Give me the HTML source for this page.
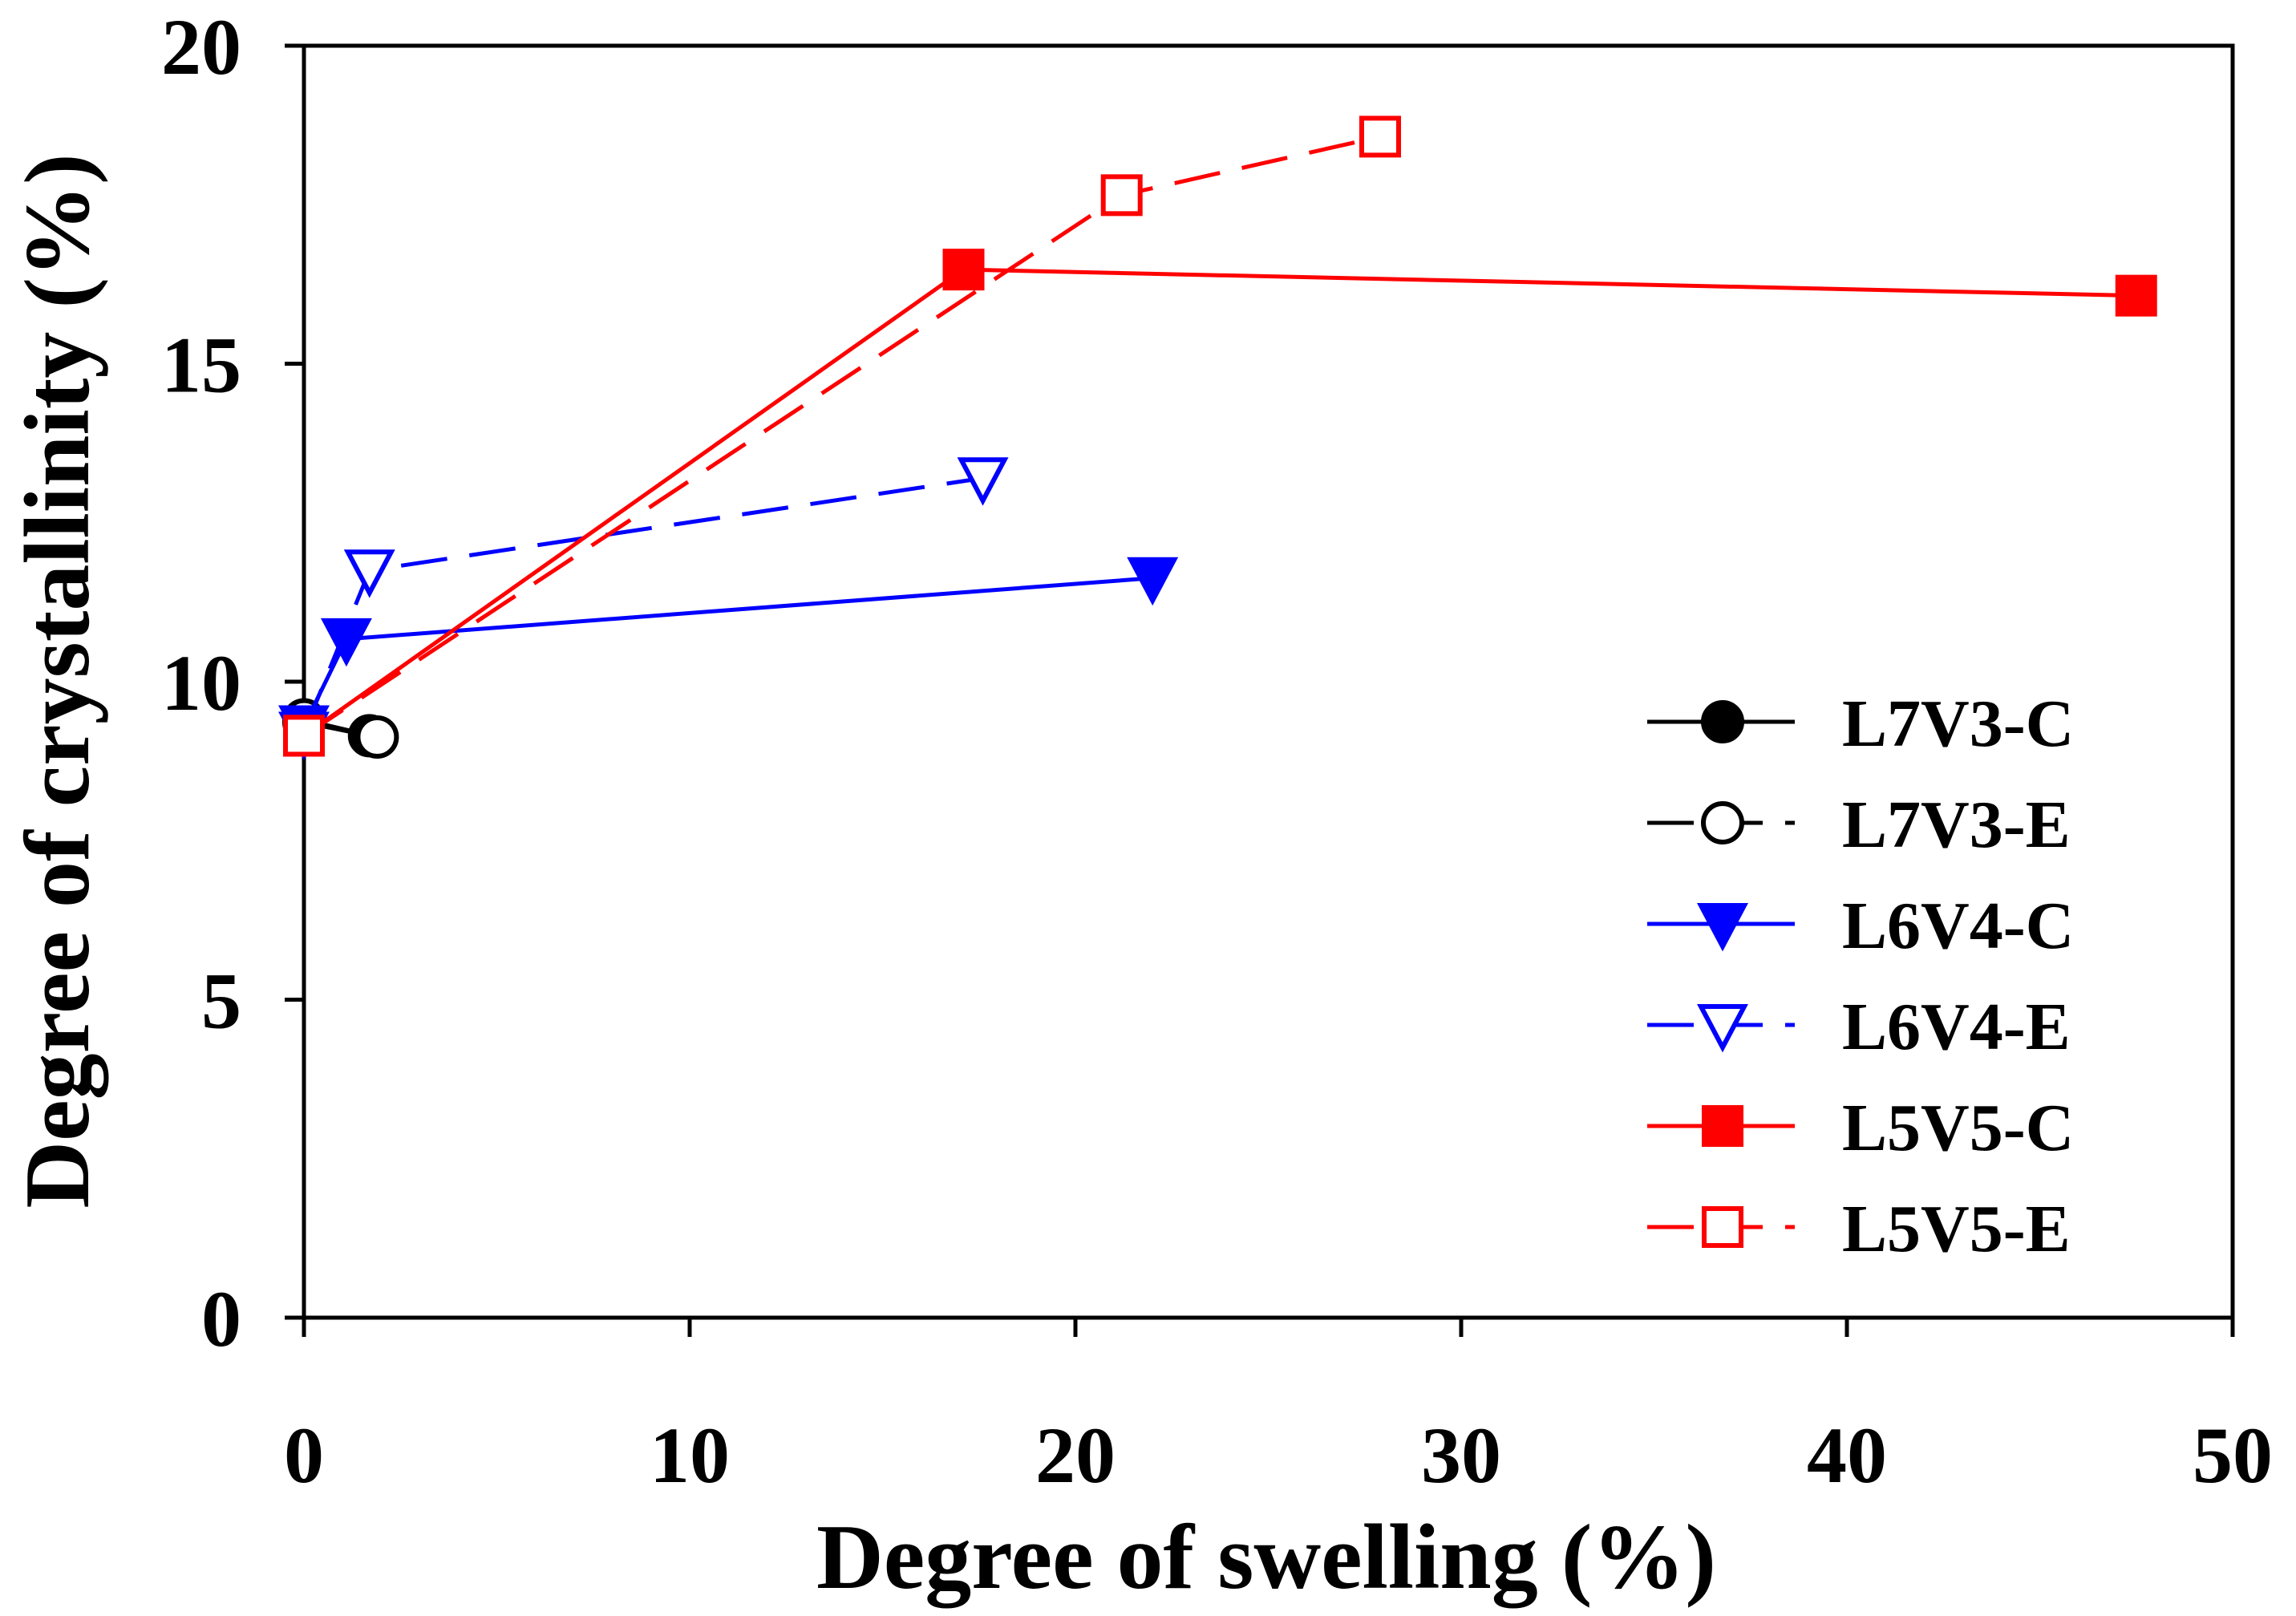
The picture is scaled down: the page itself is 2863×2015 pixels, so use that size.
<!DOCTYPE html>
<html><head><meta charset="utf-8"><style>
html,body{margin:0;padding:0;background:#fff;}
svg{display:block;font-family:"Liberation Serif",serif;font-weight:bold;}
</style></head><body>
<svg id="chart" width="2863" height="2015" viewBox="0 0 2863 2015" xmlns="http://www.w3.org/2000/svg">
<g id="axes"></g>
<g id="series"></g>
<g id="legend"></g>
<text x="1579" y="1980" font-size="116" text-anchor="middle">Degree of swelling (%)</text>
<text x="0" y="0" font-size="116" text-anchor="middle" transform="translate(110,849) rotate(-90)">Degree of crystallinity (%)</text>
</svg>
<script>
const xTicks=[0,10,20,30,40,50];
const yTicks=[0,5,10,15,20];
const seriesNames=["L7V3-C","L7V3-E","L6V4-C","L6V4-E","L5V5-C","L5V5-E"];
const xL7V3C=[0,1.7]; const yL7V3C=[9.36,9.15];
const xL7V3E=[0,1.9]; const yL7V3E=[9.4,9.13];
const xL6V4C=[0,1.1,22.0]; const yL6V4C=[9.3,10.67,11.63];
const xL6V4E=[0,1.7,17.6]; const yL6V4E=[9.2,11.75,13.2];
const xL5V5C=[0,17.1,47.5]; const yL5V5C=[9.15,16.48,16.07];
const xL5V5E=[0,21.2,27.9]; const yL5V5E=[9.15,17.65,18.57];

const NS="http://www.w3.org/2000/svg";
const X0=379,X1=2784,Y0=1643,Y1=57;
function sx(v){return X0+(v-0)/(50-0)*(X1-X0);}
function sy(v){return Y0-(v-0)/(20-0)*(Y0-Y1);}
function mk(tag,attrs,parent){const e=document.createElementNS(NS,tag);for(const k in attrs)e.setAttribute(k,attrs[k]);parent.appendChild(e);return e;}
const axes=document.getElementById('axes');
let r=mk('rect',{x:X0,y:Y1,width:X1-X0,height:Y0-Y1,fill:'none',stroke:'#000','stroke-width':5},axes);


xTicks.forEach(t=>{
  let l=mk('line',{x1:sx(t),x2:sx(t),y1:Y0,y2:Y0+24,stroke:'#000','stroke-width':5},axes);
  
  
  let tx=mk('text',{x:sx(t),y:1848,'font-size':100,'text-anchor':'middle'},axes);tx.textContent=t;
  
  
});
yTicks.forEach(t=>{
  let l=mk('line',{x1:X0-24,x2:X0,y1:sy(t),y2:sy(t),stroke:'#000','stroke-width':5},axes);
  
  
  let tx=mk('text',{x:301,y:sy(t)+35,'font-size':100,'text-anchor':'end'},axes);tx.textContent=t;
  
  
});
const styles=[
 {c:'#000',dash:null,m:'circle',fill:true},
 {c:'#000',dash:'58,28',m:'circle',fill:false},
 {c:'#0000ff',dash:null,m:'tri',fill:true},
 {c:'#0000ff',dash:'58,28',m:'tri',fill:false},
 {c:'#ff0000',dash:null,m:'square',fill:true},
 {c:'#ff0000',dash:'58,28',m:'square',fill:false}];
const data=[[xL7V3C,yL7V3C],[xL7V3E,yL7V3E],[xL6V4C,yL6V4C],[xL6V4E,yL6V4E],[xL5V5C,yL5V5C],[xL5V5E,yL5V5E]];
function marker(px,py,s,g){
  const f=s.fill?s.c:'#fff';let e;
  if(s.m==='circle')e=mk('circle',{cx:px,cy:py,r:24,fill:f,stroke:s.c,'stroke-width':6},g);
  else if(s.m==='square')e=mk('rect',{x:px-23,y:py-23,width:46,height:46,fill:f,stroke:s.c,'stroke-width':6},g);
  else e=mk('polygon',{points:`${px-27},${py-23} ${px+27},${py-23} ${px},${py+28}`,fill:f,stroke:s.c,'stroke-width':6},g);
  return e;
}
const sg=document.getElementById('series');
data.forEach((d,i)=>{
  const s=styles[i];
  const g=mk('g',{},sg);
  
  
  const pts=d[0].map((x,j)=>sx(x)+','+sy(d[1][j])).join(' ');
  const pl=mk('polyline',{points:pts,fill:'none',stroke:s.c,'stroke-width':5},g);
  if(s.dash)pl.setAttribute('stroke-dasharray',s.dash);
  
  
  d[0].forEach((x,j)=>{
    const m=marker(sx(x),sy(d[1][j]),s,g);
    
    
  });
});
const lg=document.getElementById('legend');
seriesNames.forEach((n,i)=>{
  const s=styles[i];const y=900+i*126;
  const g=mk('g',{},lg);
  
  
  const l=mk('line',{x1:2054,x2:2238,y1:y,y2:y,stroke:s.c,'stroke-width':5},g);
  if(s.dash)l.setAttribute('stroke-dasharray','58,28');
  marker(2148,y,s,g);
  const t=mk('text',{x:2297,y:y+30,'font-size':84},g);t.textContent=n;
});
</script>
</body></html>
